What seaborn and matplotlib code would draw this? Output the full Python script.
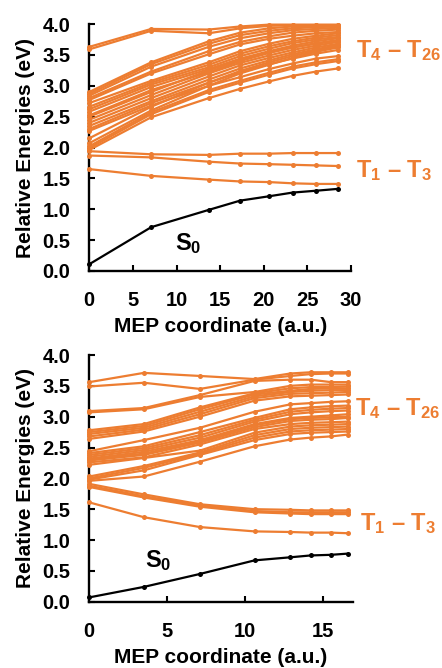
import numpy as np
import pandas as pd
import matplotlib
matplotlib.use("Agg")
import matplotlib.pyplot as plt
import seaborn as sns

# ---------------- data ----------------
# Panel (a): MEP coordinates (a.u.)
x_top = [0, 7.1, 13.7, 17.3, 20.6, 23.3, 26.0, 28.5]
s0_top = [0.11, 0.71, 0.99, 1.14, 1.21, 1.27, 1.30, 1.33]
low_top = [
    [1.65, 1.54, 1.48, 1.45, 1.44, 1.42, 1.41, 1.41],
    [1.87, 1.84, 1.77, 1.74, 1.73, 1.72, 1.71, 1.70],
    [1.94, 1.89, 1.88, 1.90, 1.90, 1.91, 1.91, 1.91],
]
high_top = [
    [3.63, 3.92, 3.91, 3.96, 3.99, 3.99, 3.99, 3.99],
    [3.59, 3.89, 3.85, 3.93, 3.97, 3.98, 3.98, 3.98],
    [2.90, 3.38, 3.72, 3.86, 3.93, 3.96, 3.97, 3.97],
    [2.87, 3.35, 3.68, 3.82, 3.89, 3.93, 3.95, 3.96],
    [2.84, 3.31, 3.63, 3.77, 3.85, 3.90, 3.92, 3.94],
    [2.80, 3.23, 3.56, 3.71, 3.80, 3.86, 3.89, 3.91],
    [2.77, 3.20, 3.51, 3.67, 3.76, 3.81, 3.85, 3.87],
    [2.72, 3.08, 3.38, 3.56, 3.68, 3.76, 3.81, 3.85],
    [2.66, 3.05, 3.34, 3.52, 3.64, 3.72, 3.78, 3.82],
    [2.62, 3.02, 3.30, 3.48, 3.60, 3.69, 3.75, 3.79],
    [2.58, 2.98, 3.27, 3.44, 3.56, 3.65, 3.72, 3.77],
    [2.52, 2.93, 3.22, 3.40, 3.53, 3.62, 3.69, 3.74],
    [2.50, 2.90, 3.25, 3.42, 3.54, 3.62, 3.68, 3.73],
    [2.45, 2.85, 3.20, 3.37, 3.49, 3.58, 3.65, 3.71],
    [2.40, 2.80, 3.15, 3.33, 3.45, 3.54, 3.62, 3.68],
    [2.35, 2.75, 3.10, 3.28, 3.41, 3.51, 3.59, 3.66],
    [2.30, 2.72, 3.05, 3.24, 3.38, 3.48, 3.57, 3.64],
    [2.27, 2.68, 3.00, 3.20, 3.34, 3.45, 3.55, 3.62],
    [2.15, 2.66, 3.05, 3.22, 3.35, 3.44, 3.52, 3.58],
    [2.07, 2.60, 3.00, 3.14, 3.27, 3.36, 3.44, 3.48],
    [2.02, 2.57, 2.93, 3.08, 3.21, 3.31, 3.38, 3.43],
    [1.99, 2.54, 2.90, 3.05, 3.18, 3.28, 3.35, 3.40],
    [1.96, 2.49, 2.80, 2.95, 3.07, 3.16, 3.23, 3.28],
]

# Panel (b)
x_bot = [0, 3.5, 7.1, 10.6, 12.9, 14.2, 15.5, 16.6]
s0_bot = [0.07, 0.24, 0.45, 0.67, 0.72, 0.75, 0.76, 0.78]
low_bot = [
    [1.61, 1.37, 1.21, 1.14, 1.13, 1.12, 1.12, 1.11],
    [1.86, 1.69, 1.54, 1.45, 1.43, 1.42, 1.42, 1.42],
    [1.88, 1.71, 1.56, 1.47, 1.45, 1.45, 1.45, 1.45],
    [1.91, 1.74, 1.58, 1.50, 1.49, 1.48, 1.48, 1.48],
]
high_bot = [
    [3.56, 3.71, 3.66, 3.61, 3.70, 3.72, 3.72, 3.72],
    [3.49, 3.55, 3.45, 3.60, 3.66, 3.69, 3.70, 3.70],
    [3.09, 3.14, 3.35, 3.58, 3.60, 3.60, 3.56, 3.56],
    [3.07, 3.12, 3.32, 3.40, 3.50, 3.52, 3.52, 3.52],
    [2.78, 2.88, 3.15, 3.38, 3.46, 3.48, 3.48, 3.49],
    [2.75, 2.85, 3.12, 3.36, 3.42, 3.45, 3.46, 3.46],
    [2.72, 2.82, 3.08, 3.33, 3.40, 3.42, 3.43, 3.43],
    [2.68, 2.79, 3.04, 3.30, 3.37, 3.38, 3.39, 3.40],
    [2.64, 2.76, 3.00, 3.26, 3.33, 3.34, 3.35, 3.36],
    [2.44, 2.62, 2.82, 3.08, 3.20, 3.22, 3.24, 3.25],
    [2.41, 2.52, 2.75, 2.98, 3.12, 3.15, 3.17, 3.18],
    [2.38, 2.49, 2.70, 2.95, 3.08, 3.11, 3.13, 3.14],
    [2.35, 2.46, 2.66, 2.92, 3.04, 3.07, 3.09, 3.10],
    [2.32, 2.43, 2.62, 2.88, 2.98, 3.00, 3.02, 3.04],
    [2.31, 2.40, 2.60, 2.86, 2.96, 2.98, 2.99, 3.00],
    [2.29, 2.38, 2.58, 2.83, 2.93, 2.95, 2.96, 2.98],
    [2.26, 2.34, 2.55, 2.80, 2.88, 2.90, 2.91, 2.92],
    [2.22, 2.33, 2.45, 2.74, 2.84, 2.86, 2.87, 2.88],
    [2.03, 2.20, 2.42, 2.70, 2.80, 2.82, 2.83, 2.84],
    [2.00, 2.17, 2.40, 2.66, 2.76, 2.78, 2.79, 2.80],
    [1.98, 2.13, 2.38, 2.62, 2.72, 2.74, 2.75, 2.76],
    [1.96, 2.03, 2.27, 2.52, 2.63, 2.66, 2.68, 2.71],
]

y_ticks = [0.0, 0.5, 1.0, 1.5, 2.0, 2.5, 3.0, 3.5, 4.0]
x_ticks_top = [0, 5, 10, 15, 20, 25, 30]
x_ticks_bot = [0, 5, 10, 15]

# ---------------- style ----------------
sns.set_theme(style="ticks")
plt.rcParams["font.family"] = ["Liberation Sans", "DejaVu Sans"]
plt.rcParams["font.weight"] = "bold"
plt.rcParams["mathtext.fontset"] = "custom"
plt.rcParams["mathtext.rm"] = "Liberation Sans:bold"
plt.rcParams["mathtext.it"] = "Liberation Sans:bold"
plt.rcParams["mathtext.bf"] = "Liberation Sans:bold"

ORANGE = "#ED7D31"
W, H = 442, 668
fig = plt.figure(figsize=(W / 100, H / 100), dpi=100)


def to_long(x, series, prefix):
    rows = []
    for i, vals in enumerate(series):
        for xv, yv in zip(x, vals):
            rows.append({"x": xv, "E": yv, "state": f"{prefix}{i}"})
    return pd.DataFrame(rows)


def draw_panel(ax, x, s0, low, high, xlim, xticks, s0_pos, lab_hi, lab_lo):
    trip = to_long(x, low + high, "T")
    sns.lineplot(data=trip, x="x", y="E", units="state", estimator=None,
                 color=ORANGE, lw=1.6, marker="o", markersize=3.6,
                 markeredgewidth=0, ax=ax, clip_on=False, zorder=3)
    sns.lineplot(x=x, y=s0, color="black", lw=1.6, marker="o",
                 markersize=3.6, markeredgewidth=0, ax=ax, clip_on=False,
                 zorder=4)
    ax.set_xlim(*xlim)
    ax.set_ylim(0, 4)
    ax.set_xticks(xticks)
    ax.set_yticks(y_ticks)
    ax.set_yticklabels([f"{v:.1f}" for v in y_ticks])
    sns.despine(ax=ax)
    for sp in ("left", "bottom"):
        ax.spines[sp].set_linewidth(1.7)
        ax.spines[sp].set_color("black")
    ax.tick_params(axis="both", direction="in", length=4, width=1.5,
                   colors="black", labelsize=14.5)
    ax.tick_params(axis="x", pad=14.5)
    ax.tick_params(axis="y", pad=13.5)
    for lbl in ax.get_xticklabels() + ax.get_yticklabels():
        lbl.set_fontweight("bold")
    ax.set_xlabel("MEP coordinate (a.u.)", fontsize=15,
                  fontweight="bold", labelpad=5, color="black")
    ax.set_ylabel("Relative Energies (eV)", fontsize=15,
                  fontweight="bold", labelpad=5, color="black")
    ax.text(s0_pos[0], s0_pos[1], r"S$_0$", fontsize=17, fontweight="bold",
            color="black", va="center", ha="left")
    ax.text(lab_hi[0], lab_hi[1], r"T$_4$ – T$_{26}$", fontsize=17,
            fontweight="bold", color=ORANGE, va="center", ha="left",
            clip_on=False)
    ax.text(lab_lo[0], lab_lo[1], r"T$_1$ – T$_3$", fontsize=17,
            fontweight="bold", color=ORANGE, va="center", ha="left",
            clip_on=False)


ax1 = fig.add_axes([89.3 / W, 1 - 271 / H, (351 - 89.3) / W, 247 / H])
draw_panel(ax1, x_top, s0_top, low_top, high_top, (0, 30), x_ticks_top,
           (9.8, 0.44), (30.6, 3.57), (30.6, 1.62))

ax2 = fig.add_axes([89.3 / W, 1 - 601.7 / H, (352.7 - 89.3) / W, 246.7 / H])
draw_panel(ax2, x_bot, s0_bot, low_bot, high_bot, (0, 16.9), x_ticks_bot,
           (3.6, 0.66), (17.05, 3.13), (17.35, 1.26))

fig.savefig("out.png", dpi=100)
